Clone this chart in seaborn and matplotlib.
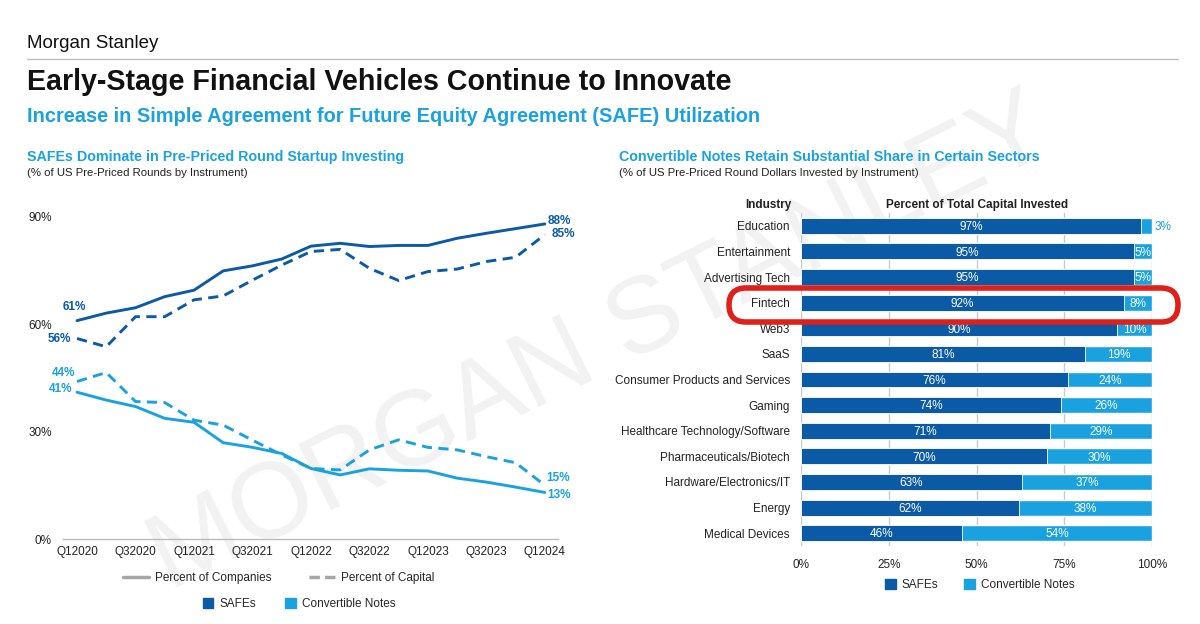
import numpy as np
import pandas as pd
import matplotlib
matplotlib.use("Agg")
import matplotlib.pyplot as plt
from matplotlib.lines import Line2D
from matplotlib.patches import Patch, FancyBboxPatch
import seaborn as sns

# ----------------------------------------------
# DATA
# ----------------------------------------------
QUARTERS = ["Q12020", "Q22020", "Q32020", "Q42020",
            "Q12021", "Q22021", "Q32021", "Q42021",
            "Q12022", "Q22022", "Q32022", "Q42022",
            "Q12023", "Q22023", "Q32023", "Q42023",
            "Q12024"]

SAFE_COMPANIES = [61, 63.1, 64.6, 67.7, 69.5, 74.9, 76.3, 78.2, 81.8,
                  82.6, 81.7, 82.0, 82.0, 84.0, 85.4, 86.7, 88]
SAFE_CAPITAL   = [56, 53.7, 62.1, 62.1, 66.8, 67.9, 72.3, 76.5, 80.3,
                  80.9, 75.6, 72.2, 74.7, 75.4, 77.5, 78.7, 85]
NOTE_COMPANIES = [41, 38.8, 37.0, 33.7, 32.6, 26.9, 25.6, 23.9, 19.7,
                  17.9, 19.6, 19.2, 19.0, 17.0, 15.9, 14.5, 13]
NOTE_CAPITAL   = [44, 46.5, 38.4, 38.1, 33.2, 31.8, 27.6, 23.5, 19.7,
                  19.3, 24.9, 27.7, 25.6, 24.9, 23.0, 21.3, 15]

INDUSTRIES = ["Education", "Entertainment", "Advertising Tech", "Fintech",
              "Web3", "SaaS", "Consumer Products and Services", "Gaming",
              "Healthcare Technology/Software", "Pharmaceuticals/Biotech",
              "Hardware/Electronics/IT", "Energy", "Medical Devices"]
SAFE_SHARE = [97, 95, 95, 92, 90, 81, 76, 74, 71, 70, 63, 62, 46]
NOTE_SHARE = [3, 5, 5, 8, 10, 19, 24, 26, 29, 30, 37, 38, 54]

# ----------------------------------------------
# STYLE
# ----------------------------------------------
DARK  = "#0B5AA6"
LIGHT = "#1AA2E0"
TXT   = "#222222"
GRID  = "#C9C9C9"

sns.set_theme(style="white")
plt.rcParams["font.family"] = ["Liberation Sans", "DejaVu Sans"]
plt.rcParams["axes.facecolor"] = "none"

W, H = 1200, 624
fig = plt.figure(figsize=(12, 6.24), dpi=100)


def fx(px):
    return px / W


def fy(py):
    return 1 - py / H


# watermark (behind everything)
fig.text(0.5, fy(345), "MORGAN STANLEY", rotation=26.5, fontsize=77,
         color="#F2F2F2", ha="center", va="center", zorder=-5)

# headers
fig.text(fx(27), fy(43), "Morgan Stanley", fontsize=13.5, color="#111111",
         va="center")
fig.add_artist(Line2D([fx(27), fx(1178)], [fy(59), fy(59)],
                      color="#BDBDBD", lw=1))
fig.text(fx(27), fy(82), "Early-Stage Financial Vehicles Continue to Innovate",
         fontsize=20.6, fontweight="bold", color="#111111", va="center")
fig.text(fx(27), fy(117),
         "Increase in Simple Agreement for Future Equity Agreement (SAFE) Utilization",
         fontsize=14.4, fontweight="bold", color=LIGHT, va="center")

fig.text(fx(27), fy(157), "SAFEs Dominate in Pre-Priced Round Startup Investing",
         fontsize=10.3, fontweight="bold", color=LIGHT, va="center")
fig.text(fx(27), fy(173), "(% of US Pre-Priced Rounds by Instrument)",
         fontsize=8.2, color=TXT, va="center")
fig.text(fx(619), fy(157),
         "Convertible Notes Retain Substantial Share in Certain Sectors",
         fontsize=10.3, fontweight="bold", color=LIGHT, va="center")
fig.text(fx(619), fy(173),
         "(% of US Pre-Priced Round Dollars Invested by Instrument)",
         fontsize=8.2, color=TXT, va="center")

# ----------------------------------------------
# LEFT: line chart
# ----------------------------------------------
ax1 = fig.add_axes([fx(63), fy(539), fx(558 - 63), (539 - 181) / H])

n = len(QUARTERS)
idx = np.arange(n)
lines = pd.DataFrame({
    "q": np.tile(idx, 4),
    "value": SAFE_COMPANIES + SAFE_CAPITAL + NOTE_COMPANIES + NOTE_CAPITAL,
    "instrument": ["SAFEs"] * (2 * n) + ["Convertible Notes"] * (2 * n),
    "measure": (["Percent of Companies"] * n + ["Percent of Capital"] * n) * 2,
})
sns.lineplot(data=lines, x="q", y="value", hue="instrument", style="measure",
             palette={"SAFEs": DARK, "Convertible Notes": LIGHT},
             dashes={"Percent of Companies": "", "Percent of Capital": (3.5, 2.2)},
             linewidth=2.1, legend=False, ax=ax1)

ax1.set_xlim(-0.48, n - 1 + 0.45)
ax1.set_ylim(0, 100)
ax1.set_yticks([0, 30, 60, 90])
ax1.set_yticklabels(["0%", "30%", "60%", "90%"])
ax1.set_xticks(idx[::2])
ax1.set_xticklabels(QUARTERS[::2])
ax1.set_xlabel("")
ax1.set_ylabel("")
ax1.tick_params(axis="both", length=0, labelsize=8.5, labelcolor=TXT)
ax1.tick_params(axis="y", pad=8)
ax1.tick_params(axis="x", pad=5)
for s in ["top", "right", "left"]:
    ax1.spines[s].set_visible(False)
ax1.spines["bottom"].set_color("#BBBBBB")
ax1.spines["bottom"].set_linewidth(1)

# end-point labels
ends = [
    (SAFE_COMPANIES, DARK, 0, (-2, 10), "center"),
    (SAFE_CAPITAL, DARK, 0, (-4, 0), "right"),
    (NOTE_CAPITAL, LIGHT, 0, (-1.5, 6), "right"),
    (NOTE_COMPANIES, LIGHT, 0, (-3.5, 2), "right"),
    (SAFE_COMPANIES, DARK, n - 1, (2, 2), "left"),
    (SAFE_CAPITAL, DARK, n - 1, (5, 0.5), "left"),
    (NOTE_CAPITAL, LIGHT, n - 1, (1, 5), "left"),
    (NOTE_COMPANIES, LIGHT, n - 1, (2, -2), "left"),
]
for series, col, i, off, ha in ends:
    ax1.annotate(f"{series[i]:.0f}%", (i, series[i]), xytext=off,
                 textcoords="offset points", ha=ha, va="center",
                 fontsize=8.5, fontweight="bold", color=col)

h_style = [Line2D([], [], color="#A6A6A6", lw=2.5, label="Percent of Companies"),
           Line2D([], [], color="#A6A6A6", lw=2.5, ls=(0, (3, 1.5)),
                  label="Percent of Capital")]
fig.legend(handles=h_style, loc="center", bbox_to_anchor=(fx(279), fy(578)),
           ncol=2, frameon=False, fontsize=8.5, handlelength=2.2,
           columnspacing=3.2, handletextpad=0.5)
h_col = [Patch(color=DARK, label="SAFEs"),
         Patch(color=LIGHT, label="Convertible Notes")]
fig.legend(handles=h_col, loc="center", bbox_to_anchor=(fx(299), fy(604)),
           ncol=2, frameon=False, fontsize=8.5, handlelength=0.9,
           handleheight=0.9, columnspacing=2.5, handletextpad=0.5)

# ----------------------------------------------
# RIGHT: stacked horizontal bars
# ----------------------------------------------
ax2 = fig.add_axes([fx(801), fy(546), fx(1152 - 801), (546 - 213) / H])

bars = pd.DataFrame({"industry": INDUSTRIES, "safe": SAFE_SHARE,
                     "note": NOTE_SHARE})
bars["total"] = bars["safe"] + bars["note"]

sns.barplot(data=bars, x="total", y="industry", orient="h", color=LIGHT,
            saturation=1, width=0.62, ax=ax2, zorder=2)
sns.barplot(data=bars, x="safe", y="industry", orient="h", color=DARK,
            saturation=1, width=0.62, ax=ax2, zorder=3,
            edgecolor="white", linewidth=0.6)

ax2.set_xlim(0, 100)
ax2.set_ylim(len(INDUSTRIES) - 0.5, -0.5)
ax2.set_xticks([0, 25, 50, 75, 100])
ax2.set_xticklabels(["0%", "25%", "50%", "75%", "100%"])
ax2.set_xlabel("")
ax2.set_ylabel("")
ax2.grid(axis="x", color=GRID, lw=1, zorder=0)
ax2.grid(axis="y", visible=False)
ax2.set_axisbelow(True)
for s in ax2.spines.values():
    s.set_visible(False)
ax2.tick_params(axis="both", length=0, labelsize=8.5, labelcolor=TXT)
ax2.tick_params(axis="y", pad=8)
ax2.tick_params(axis="x", pad=9)

for i, row in bars.iterrows():
    ax2.text(row["safe"] / 2, i + 0.05, f"{row['safe']}%", color="white",
             ha="center", va="center", fontsize=8.5, zorder=5)
    if row["note"] >= 5:
        ax2.text(row["safe"] + row["note"] / 2, i + 0.05, f"{row['note']}%",
                 color="white", ha="center", va="center", fontsize=8.5,
                 zorder=5)
    else:
        ax2.text(row["total"] + 0.8, i + 0.05, f"{row['note']}%", color=LIGHT,
                 ha="left", va="center", fontsize=8.5, zorder=5)

fig.text(fx(791), fy(205), "Industry", ha="right", va="center",
         fontsize=8.5, fontweight="bold", color=TXT)
fig.text(fx(977), fy(205), "Percent of Total Capital Invested", ha="center",
         va="center", fontsize=8.5, fontweight="bold", color=TXT)

fig.legend(handles=h_col, loc="center", bbox_to_anchor=(fx(980), fy(585)),
           ncol=2, frameon=False, fontsize=8.5, handlelength=0.9,
           handleheight=0.9, columnspacing=2.2, handletextpad=0.5)

# hand-drawn highlight around the Fintech row
fig.add_artist(FancyBboxPatch((729, H - 322), 449, 34,
                              boxstyle="round,pad=0,rounding_size=17",
                              transform=None, fill=False,
                              edgecolor="#E0201B", lw=4, zorder=10))

fig.savefig("out.png", dpi=100)
